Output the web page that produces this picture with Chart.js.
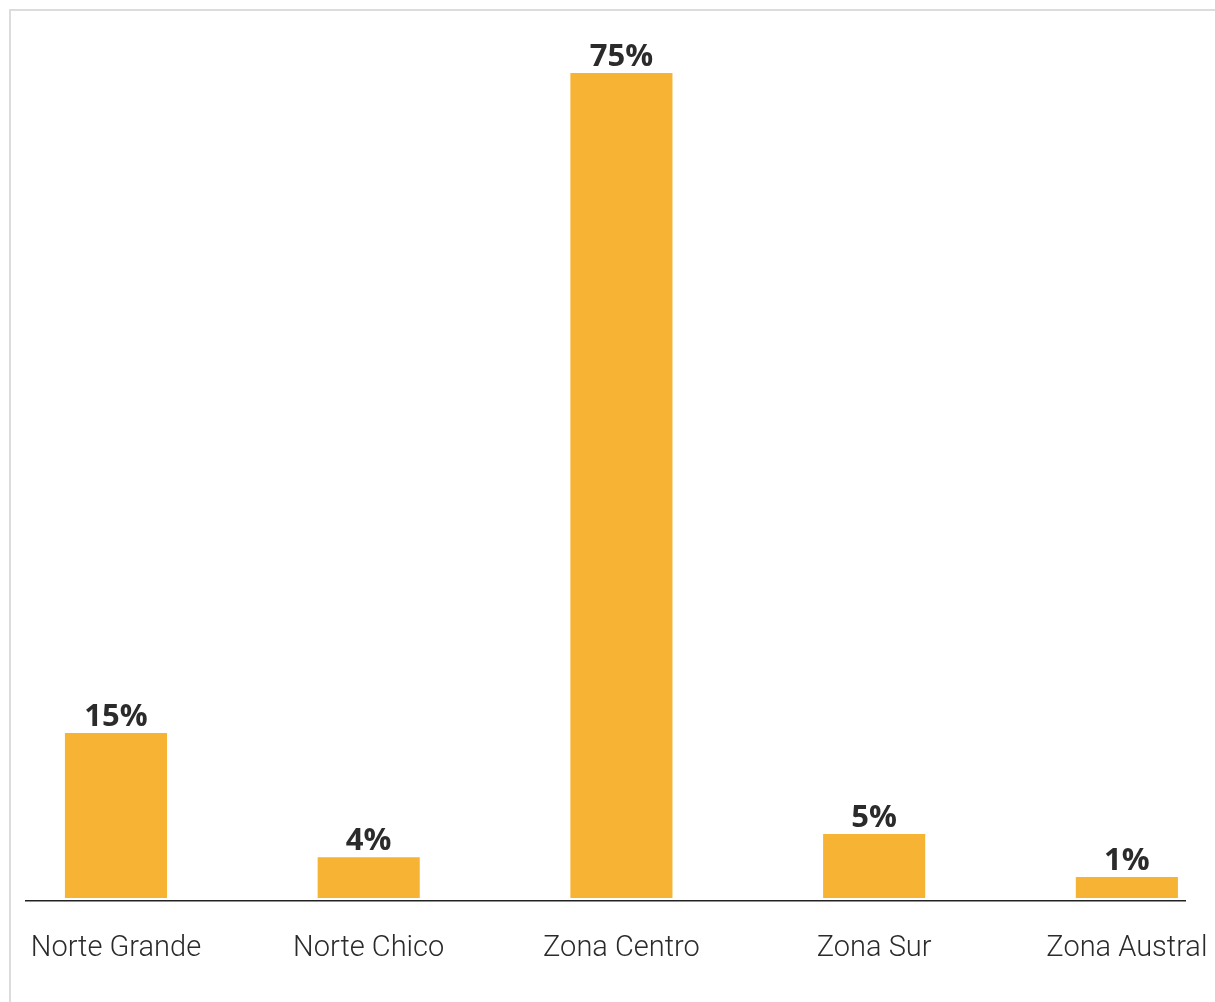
<!DOCTYPE html>
<html>
<head>
<meta charset="utf-8">
<script src="https://cdn.jsdelivr.net/npm/chart.js@4.4.1/dist/chart.umd.min.js"></script>
<style>
  html, body { margin: 0; padding: 0; background: #fff; overflow: hidden; }
  #wrap { position: relative; width: 1215px; height: 1002px; }
  #frame { position: absolute; left: 9px; top: 9px; right: 0; bottom: 0; border-top: 2px solid #dcdcdc; border-left: 2px solid #dcdcdc; }
  canvas { position: absolute; left: 0; top: 0; }
</style>
</head>
<body>
<div id="wrap">
  <div id="frame"></div>
  <canvas id="chart" width="1215" height="1002"></canvas>
</div>
<script>
// regions and their share (bar heights)
const regions = ['Norte Grande', 'Norte Chico', 'Zona Centro', 'Zona Sur', 'Zona Austral'];
const shares = [15, 3.7, 75, 5.8, 1.9];
const shareLabels = ['15%', '4%', '75%', '5%', '1%'];

const barColor = '#F7B334';
const textColor = '#2b2b2b';

// writes the percentage above each bar
const valueLabels = {
  id: 'valueLabels',
  afterDatasetsDraw(chart) {
    const ctx = chart.ctx;
    const meta = chart.getDatasetMeta(0);
    ctx.save();
    ctx.font = 'bold 31px "Open Sans"';
    ctx.fillStyle = textColor;
    ctx.textAlign = 'center';
    ctx.textBaseline = 'alphabetic';
    meta.data.forEach((bar, i) => {
      ctx.fillText(shareLabels[i], bar.x, bar.y - 7);
    });
    ctx.restore();
  }
};

const ctx = document.getElementById('chart');
const chart = new Chart(ctx, {
  type: 'bar',
  data: {
    datasets: [{
      data: shares.map((v, i) => ({ x: i, y: v })),
      backgroundColor: barColor,
      borderWidth: 0,
      barPercentage: 1,
      categoryPercentage: 0.404
    }]
  },
  options: {
    responsive: false,
    animation: false,
    layout: { padding: { left: 26, right: 30, top: 18, bottom: 36 } },
    plugins: {
      legend: { display: false },
      tooltip: { enabled: false }
    },
    scales: {
      x: {
        type: 'linear',
        offset: false,
        min: -0.356,
        max: 4.23,
        afterBuildTicks: scale => {
          scale.ticks = regions.map((r, i) => ({ value: i }));
        },
        // invisible tick marks keep the labels clear of the axis line
        grid: { display: false, drawTicks: true, tickLength: 30, tickColor: 'rgba(0,0,0,0)' },
        border: { display: true, color: '#222', width: 1.5 },
        ticks: {
          autoSkip: false,
          maxRotation: 0,
          padding: 0,
          color: textColor,
          font: { family: 'Roboto', size: 29, weight: 300 },
          callback: value => regions[value]
        }
      },
      y: {
        display: false,
        min: -0.3,
        max: 80
      }
    }
  },
  plugins: [valueLabels]
});
</script>
</body>
</html>
